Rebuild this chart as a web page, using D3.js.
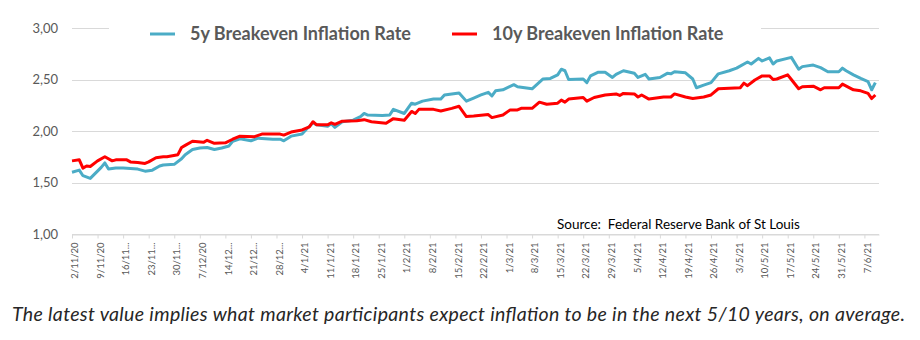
<!DOCTYPE html>
<html>
<head>
<meta charset="utf-8">
<script src="https://cdn.jsdelivr.net/npm/d3@7"></script>
<style>
  body { margin: 0; background: #fff; }
  svg text { font-family: Lato, "Open Sans", sans-serif; }
  .grid line { stroke: #d9d9d9; stroke-width: 1; }
  .y.axis text, .x.axis text { fill: #595959; }
  .x.axis line, .x.axis path { stroke: #d9d9d9; }
  .line { fill: none; stroke-width: 3; stroke-linejoin: round; }
</style>
</head>
<body>
<div id="time-series"></div>
<script>
// 0. data
var tickDates = ["2020-11-02","2020-11-09","2020-11-16","2020-11-23","2020-11-30","2020-12-07","2020-12-14","2020-12-21",
  "2020-12-28","2021-01-04","2021-01-11","2021-01-18","2021-01-25","2021-02-01","2021-02-08","2021-02-15",
  "2021-02-22","2021-03-01","2021-03-08","2021-03-15","2021-03-22","2021-03-29","2021-04-05","2021-04-12",
  "2021-04-19","2021-04-26","2021-05-03","2021-05-10","2021-05-17","2021-05-24","2021-05-31","2021-06-07"];
var tickLabels = ["2/11/20","9/11/20","16/11...","23/11...","30/11...","7/12/20","14/12...","21/12...",
  "28/12...","4/1/21","11/1/21","18/1/21","25/1/21","1/2/21","8/2/21","15/2/21",
  "22/2/21","1/3/21","8/3/21","15/3/21","22/3/21","29/3/21","5/4/21","12/4/21",
  "19/4/21","26/4/21","3/5/21","10/5/21","17/5/21","24/5/21","31/5/21","7/6/21"];
var yTicks = [1, 1.5, 2, 2.5, 3];

var dates5y = [
  "2020-11-02","2020-11-04","2020-11-05","2020-11-07","2020-11-10","2020-11-11","2020-11-12","2020-11-14","2020-11-16","2020-11-20","2020-11-22","2020-11-24","2020-11-26","2020-11-27","2020-11-30",
  "2020-12-02","2020-12-03","2020-12-05","2020-12-07","2020-12-09","2020-12-11","2020-12-13","2020-12-15","2020-12-16","2020-12-18","2020-12-21","2020-12-23","2020-12-27","2020-12-29","2020-12-30",
  "2021-01-01","2021-01-04","2021-01-05","2021-01-07","2021-01-08","2021-01-11","2021-01-12","2021-01-13","2021-01-15","2021-01-18","2021-01-20","2021-01-21","2021-01-22","2021-01-26","2021-01-28","2021-01-29",
  "2021-02-01","2021-02-03","2021-02-04","2021-02-06","2021-02-09","2021-02-11","2021-02-12","2021-02-16","2021-02-18","2021-02-20","2021-02-22","2021-02-24","2021-02-25","2021-02-26","2021-02-28",
  "2021-03-03","2021-03-04","2021-03-08","2021-03-11","2021-03-13","2021-03-15","2021-03-16","2021-03-17","2021-03-18","2021-03-22","2021-03-23","2021-03-24","2021-03-26","2021-03-28","2021-03-30","2021-03-31",
  "2021-04-02","2021-04-05","2021-04-06","2021-04-08","2021-04-09","2021-04-12","2021-04-14","2021-04-15","2021-04-16","2021-04-19","2021-04-21","2021-04-22","2021-04-24","2021-04-26","2021-04-28",
  "2021-05-01","2021-05-03","2021-05-06","2021-05-07","2021-05-09","2021-05-10","2021-05-12","2021-05-13","2021-05-14","2021-05-18","2021-05-20","2021-05-21","2021-05-24","2021-05-26","2021-05-28","2021-05-31",
  "2021-06-01","2021-06-02","2021-06-04","2021-06-06","2021-06-08","2021-06-09","2021-06-10"];
var rates5y = [
  1.60,1.62,1.566,1.54,1.647,1.69,1.63,1.64,1.64,1.63,1.61,1.62,1.66,1.67,1.676,
  1.73,1.77,1.82,1.835,1.84,1.82,1.835,1.855,1.90,1.925,1.905,1.93,1.92,1.92,1.905,
  1.95,1.97,2.01,2.08,2.06,2.045,2.07,2.035,2.09,2.105,2.14,2.17,2.155,2.15,2.155,2.21,
  2.17,2.27,2.26,2.29,2.31,2.31,2.35,2.37,2.29,2.32,2.35,2.375,2.34,2.39,2.40,
  2.45,2.43,2.41,2.505,2.51,2.545,2.60,2.585,2.50,2.505,2.47,2.535,2.57,2.57,2.52,2.55,
  2.585,2.56,2.52,2.55,2.505,2.52,2.56,2.555,2.575,2.565,2.505,2.42,2.445,2.47,2.555,
  2.585,2.61,2.67,2.65,2.705,2.68,2.71,2.65,2.68,2.715,2.60,2.625,2.64,2.615,2.575,2.575,
  2.61,2.585,2.545,2.51,2.48,2.40,2.47];

var dates10y = [
  "2020-11-02","2020-11-04","2020-11-05","2020-11-06","2020-11-07","2020-11-09","2020-11-11","2020-11-13","2020-11-14","2020-11-17","2020-11-18","2020-11-20","2020-11-22","2020-11-23","2020-11-25","2020-11-27","2020-11-28",
  "2020-12-01","2020-12-02","2020-12-03","2020-12-05","2020-12-08","2020-12-09","2020-12-11","2020-12-14","2020-12-16","2020-12-18","2020-12-22","2020-12-24","2020-12-29","2020-12-30",
  "2021-01-01","2021-01-04","2021-01-06","2021-01-07","2021-01-08","2021-01-11","2021-01-12","2021-01-13","2021-01-15","2021-01-19","2021-01-21","2021-01-23","2021-01-27","2021-01-29",
  "2021-02-01","2021-02-03","2021-02-04","2021-02-05","2021-02-09","2021-02-11","2021-02-14","2021-02-16","2021-02-18","2021-02-20","2021-02-24","2021-02-25","2021-02-28",
  "2021-03-02","2021-03-04","2021-03-05","2021-03-08","2021-03-10","2021-03-12","2021-03-15","2021-03-16","2021-03-17","2021-03-18","2021-03-22","2021-03-23","2021-03-25","2021-03-28","2021-03-31",
  "2021-04-01","2021-04-02","2021-04-05","2021-04-06","2021-04-07","2021-04-09","2021-04-13","2021-04-15","2021-04-16","2021-04-19","2021-04-21","2021-04-24","2021-04-26","2021-04-28",
  "2021-05-01","2021-05-04","2021-05-05","2021-05-06","2021-05-08","2021-05-10","2021-05-12","2021-05-13","2021-05-14","2021-05-17","2021-05-18","2021-05-20","2021-05-21","2021-05-24","2021-05-26","2021-05-27","2021-05-31",
  "2021-06-01","2021-06-04","2021-06-06","2021-06-08","2021-06-09","2021-06-10"];
var rates10y = [
  1.71,1.72,1.64,1.66,1.655,1.71,1.75,1.71,1.72,1.72,1.70,1.695,1.685,1.70,1.74,1.75,1.75,
  1.77,1.84,1.86,1.90,1.89,1.91,1.88,1.885,1.92,1.95,1.945,1.97,1.97,1.96,
  1.99,2.01,2.04,2.09,2.06,2.06,2.08,2.065,2.095,2.10,2.11,2.09,2.075,2.12,
  2.105,2.19,2.17,2.21,2.21,2.195,2.22,2.24,2.14,2.145,2.16,2.13,2.155,
  2.205,2.205,2.22,2.22,2.28,2.26,2.27,2.30,2.28,2.31,2.325,2.29,2.325,2.35,2.36,
  2.345,2.365,2.36,2.33,2.35,2.31,2.33,2.33,2.36,2.33,2.315,2.33,2.35,2.41,
  2.415,2.42,2.465,2.44,2.495,2.535,2.535,2.50,2.505,2.545,2.50,2.41,2.43,2.435,2.40,2.42,2.42,
  2.455,2.40,2.39,2.365,2.315,2.35];

var seriesNames = ["5y Breakeven Inflation Rate", "10y Breakeven Inflation Rate"];
var seriesColors = ["#4bacc6", "#ff0000"];

// parser
var timeForm = d3.timeParse("%Y-%m-%d");

function toPoints(dates, rates) {
  return dates.map(function(d, i) { return {date: timeForm(d), rate: rates[i]}; });
}
var series = [toPoints(dates5y, rates5y), toPoints(dates10y, rates10y)];

// 1. margins
var margin = {top: 28, right: 41, bottom: 106, left: 72}
  , width = 920 - margin.left - margin.right
  , height = 340 - margin.top - margin.bottom;

var svg = d3.select("#time-series").append("svg")
    .attr("width", 920)
    .attr("height", 340);

var g = svg.append("g")
    .attr("transform", "translate(" + margin.left + "," + margin.top + ")");

// 2. scales
var xScale = d3.scaleTime()
    .domain([timeForm("2020-11-02"), timeForm("2021-06-11")])
    .range([0, width]);

var yScale = d3.scaleLinear()
    .domain([1, 3])
    .range([height, 0]);

var comma = d3.formatLocale({decimal: ",", thousands: ".", grouping: [3], currency: ["", ""]}).format(".2f");

// 3. gridlines
g.append("g")
    .attr("class", "grid")
    .selectAll("line")
    .data(yTicks)
    .enter().append("line")
    .attr("x1", 0)
    .attr("x2", width)
    .attr("y1", function(d) { return Math.round(yScale(d)) + 0.5; })
    .attr("y2", function(d) { return Math.round(yScale(d)) + 0.5; });

// 4. y axis (labels only)
var yAxis = g.append("g")
    .attr("class", "y axis")
    .call(d3.axisLeft(yScale).tickValues(yTicks).tickFormat(comma).tickSize(0).tickPadding(14));
yAxis.select(".domain").remove();
yAxis.selectAll("text").style("font-size", "13px");

// 5. x axis
var xAxis = g.append("g")
    .attr("class", "x axis")
    .attr("transform", "translate(0," + (Math.round(height) + 0.5) + ")")
    .call(d3.axisBottom(xScale)
      .tickValues(tickDates.map(timeForm))
      .tickFormat(function(d, i) { return tickLabels[i]; })
      .tickSizeInner(4)
      .tickSizeOuter(0));

xAxis.selectAll("text")
    .attr("transform", "rotate(-90)")
    .attr("x", -8)
    .attr("y", 0)
    .attr("dy", "0.6em")
    .style("text-anchor", "end")
    .style("font-size", "9.5px");

// 6. lines
var line = d3.line()
    .x(function(d) { return xScale(d.date); })
    .y(function(d) { return yScale(d.rate); });

g.selectAll(".line")
    .data(series)
    .enter().append("path")
    .attr("class", "line")
    .attr("stroke", function(d, i) { return seriesColors[i]; })
    .attr("d", line);

// 7. legend
svg.append("rect")
    .attr("x", 109)
    .attr("y", 18)
    .attr("width", 652)
    .attr("height", 30)
    .attr("fill", "#fff");

var legendX = [150, 452];
var legend = svg.selectAll(".legend")
    .data(seriesNames)
    .enter().append("g")
    .attr("class", "legend")
    .attr("transform", function(d, i) { return "translate(" + legendX[i] + ",34)"; });

legend.append("line")
    .attr("x1", 0)
    .attr("x2", 25)
    .attr("stroke", function(d, i) { return seriesColors[i]; })
    .attr("stroke-width", 3);

legend.append("text")
    .attr("x", 40)
    .attr("dy", "0.35em")
    .style("font-size", "18px")
    .style("font-weight", "bold")
    .attr("fill", "#595959")
    .text(function(d) { return d; });

// 8. source + caption
svg.append("text")
    .attr("x", 557)
    .attr("y", 229)
    .style("font-size", "13.5px")
    .style("white-space", "pre")
    .attr("fill", "#000")
    .text("Source:  Federal Reserve Bank of St Louis");

svg.append("text")
    .attr("x", 12)
    .attr("y", 321)
    .attr("textLength", 893)
    .attr("lengthAdjust", "spacing")
    .style("font-size", "19.5px")
    .style("font-style", "italic")
    .attr("fill", "#262626")
    .text("The latest value implies what market participants expect inflation to be in the next 5/10 years, on average.");
</script>
</body>
</html>
